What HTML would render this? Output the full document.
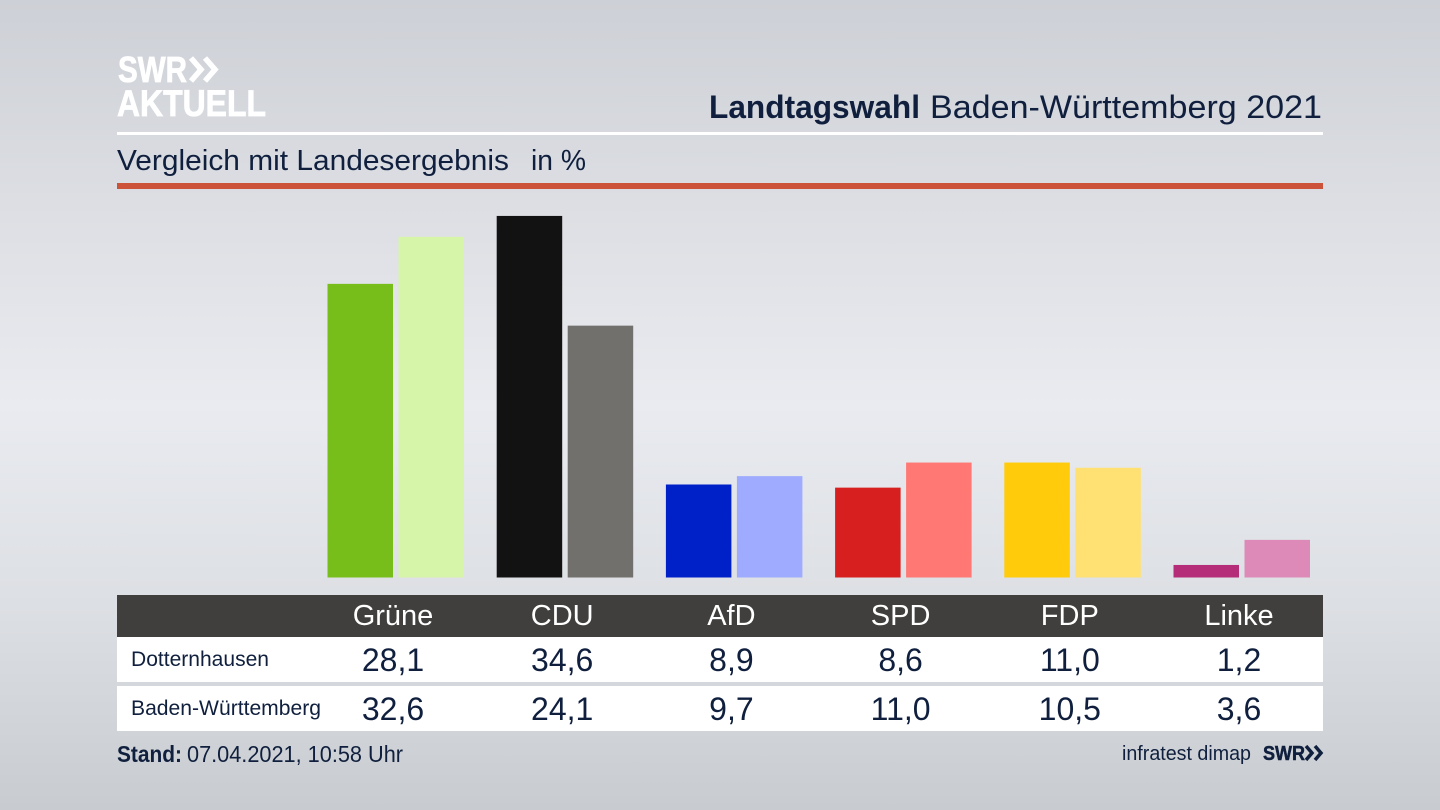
<!DOCTYPE html>
<html lang="de">
<head>
<meta charset="utf-8">
<title>Landtagswahl Baden-Württemberg 2021</title>
<style>
html,body{margin:0;padding:0;width:1440px;height:810px;overflow:hidden;background:#d5d8dd}
svg{display:block;font-family:"Liberation Sans",sans-serif}
</style>
</head>
<body>
<svg id="chart" xmlns="http://www.w3.org/2000/svg" width="1440" height="810" viewBox="0 0 1440 810">
  <defs>
    <linearGradient id="bg" x1="0" y1="0" x2="0" y2="1">
      <stop offset="0" stop-color="#cdd0d6"/>
      <stop offset="0.25" stop-color="#dcdee3"/>
      <stop offset="0.5" stop-color="#e9ebf0"/>
      <stop offset="0.75" stop-color="#dcdfe3"/>
      <stop offset="1" stop-color="#c8ccd0"/>
    </linearGradient>
  </defs>
  <rect width="1440" height="810" fill="url(#bg)"/>

  <g fill="#fff" font-weight="700">
    <text x="118" y="82" font-size="36" textLength="69" lengthAdjust="spacingAndGlyphs" stroke="#fff" stroke-width="0.800">SWR</text>
    <path d="M191 58l10 11.500-10 11.500M205 58l10 11.500-10 11.500" fill="none" stroke="#fff" stroke-width="5.500"/>
    <text x="117" y="116" font-size="37" textLength="149" lengthAdjust="spacingAndGlyphs" stroke="#fff" stroke-width="0.800">AKTUELL</text>
  </g>

  <text y="118" font-size="32" fill="#0f1f3d">
    <tspan x="709" font-weight="700" textLength="211" lengthAdjust="spacingAndGlyphs">Landtagswahl</tspan>
    <tspan x="930" textLength="392" lengthAdjust="spacingAndGlyphs">Baden-Württemberg 2021</tspan>
  </text>
  <rect x="117" y="132" width="1206" height="3" fill="#fff"/>
  <text x="117" y="170" font-size="29" fill="#0f1f3d" textLength="392" lengthAdjust="spacingAndGlyphs">Vergleich mit Landesergebnis</text>
  <text x="531" y="170" font-size="29" fill="#0f1f3d" textLength="55" lengthAdjust="spacingAndGlyphs">in %</text>
  <rect x="117" y="183" width="1206" height="6" fill="#cc5239"/>

  <g id="bars"></g>

  <rect x="117" y="595" width="1206" height="42" fill="#403f3d"/>
  <rect x="117" y="637" width="1206" height="45" fill="#fff"/>
  <rect x="117" y="686" width="1206" height="45" fill="#fff"/>
  <text x="131" y="666" font-size="21" fill="#0f1f3d" textLength="138" lengthAdjust="spacingAndGlyphs">Dotternhausen</text>
  <text x="131" y="715" font-size="21" fill="#0f1f3d" textLength="190" lengthAdjust="spacingAndGlyphs">Baden-Württemberg</text>
  <g id="table"></g>

  <text x="117" y="762" font-size="23" font-weight="700" fill="#0f1f3d" textLength="65" lengthAdjust="spacingAndGlyphs">Stand:</text>
  <text x="187" y="762" font-size="23" fill="#0f1f3d" textLength="216" lengthAdjust="spacingAndGlyphs">07.04.2021, 10:58 Uhr</text>
  <text x="1122" y="760" font-size="20" fill="#0f1f3d" textLength="129" lengthAdjust="spacingAndGlyphs">infratest dimap</text>
  <text x="1263" y="760" font-size="20" font-weight="700" fill="#0f1f3d" textLength="42" lengthAdjust="spacingAndGlyphs" stroke="#0f1f3d" stroke-width="0.500">SWR</text>
  <path d="M1306 746l6 7-6 7M1315 746l6 7-6 7" fill="none" stroke="#0f1f3d" stroke-width="3.500"/>
</svg>
<script>
const parties = ['Grüne', 'CDU', 'AfD', 'SPD', 'FDP', 'Linke'];
const localValues = [28.1, 34.6, 8.9, 8.6, 11.0, 1.2];
const stateValues = [32.6, 24.1, 9.7, 11.0, 10.5, 3.6];
const localColors = ['#78be1a', '#121212', '#0020c8', '#d81f1f', '#ffcb0a', '#b52d78'];
const stateColors = ['#d6f5a8', '#72706d', '#9eabff', '#ff7873', '#ffe173', '#de8ab8'];

const SVG_NS = 'http://www.w3.org/2000/svg';
const baseY = 577.5;
const unitHeight = 10.45;
const groupStart = 393;
const groupStep = 169.2;
const barWidth = 65.5;
const barGap = 5.5;

function yScale(v) { return baseY - v * unitHeight; }
function xCenter(i) { return groupStart + i * groupStep; }
function fmt(v) { return v.toFixed(1).replace('.', ','); }

const barsGroup = document.getElementById('bars');
const tableGroup = document.getElementById('table');

function addBar(x, value, color) {
  const r = document.createElementNS(SVG_NS, 'rect');
  r.setAttribute('x', x);
  r.setAttribute('y', yScale(value));
  r.setAttribute('width', barWidth);
  r.setAttribute('height', baseY - yScale(value));
  r.setAttribute('fill', color);
  barsGroup.appendChild(r);
  return r;
}

function addCell(x, y, size, fill, content) {
  const t = document.createElementNS(SVG_NS, 'text');
  t.setAttribute('x', x);
  t.setAttribute('y', y);
  t.setAttribute('font-size', size);
  t.setAttribute('fill', fill);
  t.setAttribute('text-anchor', 'middle');
  t.textContent = content;
  tableGroup.appendChild(t);
  return t;
}

parties.forEach(function (party, i) {
  const c = xCenter(i);
  const localBar = addBar(c - barWidth, localValues[i], localColors[i]);
  
  
  const stateBar = addBar(c + barGap, stateValues[i], stateColors[i]);
  
  

  const head = addCell(c, 625, 29, '#ffffff', party);
  
  
  const localCell = addCell(c, 671, 32, '#0f1f3d', fmt(localValues[i]));
  
  
  const stateCell = addCell(c, 720, 32, '#0f1f3d', fmt(stateValues[i]));
  
  
});
</script>
</body>
</html>
